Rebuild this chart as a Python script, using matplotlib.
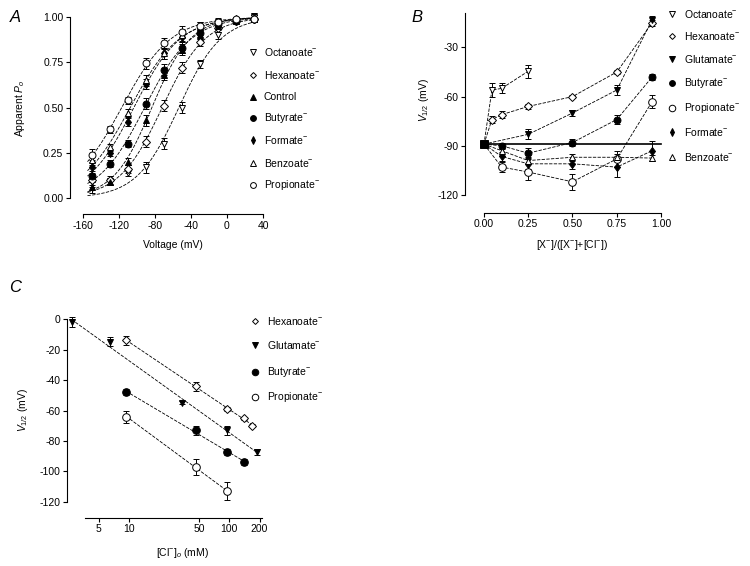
import numpy as np
import matplotlib
matplotlib.use("Agg")
import matplotlib.pyplot as plt

plt.rcParams['font.family'] = ['Liberation Sans', 'DejaVu Sans']
plt.rcParams['axes.unicode_minus'] = False
plt.rcParams['mathtext.fontset'] = 'custom'
plt.rcParams['mathtext.rm'] = 'Liberation Sans'
plt.rcParams['mathtext.it'] = 'Liberation Sans:italic'

# ---------------- data : panel A (apparent Po vs voltage) ----------------
volt = [-150, -130, -110, -90, -70, -50, -30, -10, 10, 30]
po_octanoate = [0.09, 0.09, 0.14, 0.17, 0.30, 0.50, 0.74, 0.90, 0.97, 1.00]
po_hexanoate = [0.10, 0.10, 0.16, 0.31, 0.51, 0.72, 0.86, 0.94, 0.98, 0.99]
po_control = [0.06, 0.09, 0.20, 0.43, 0.68, 0.82, 0.90, 0.95, 0.98, 0.99]
po_butyrate = [0.12, 0.19, 0.30, 0.52, 0.71, 0.83, 0.91, 0.96, 0.98, 0.99]
po_formate = [0.17, 0.25, 0.42, 0.63, 0.80, 0.89, 0.94, 0.97, 0.99, 0.99]
po_benzoate = [0.21, 0.28, 0.47, 0.65, 0.80, 0.90, 0.95, 0.97, 0.99, 1.00]
po_propionate = [0.24, 0.38, 0.54, 0.745, 0.855, 0.92, 0.95, 0.975, 0.99, 0.99]
po_err = [0.03, 0.02, 0.02, 0.03, 0.03, 0.03, 0.02, 0.02, 0.01, 0.02]

# ---------------- data : panel B (V1/2 vs anion fraction) ----------------
ctrl_v = -89
xb_octanoate = [0, 0.045, 0.1, 0.25]
vb_octanoate = [-89, -56, -55, -44.5]
eb_octanoate = [1.5, 4, 3, 4]
xb_hexanoate = [0, 0.045, 0.1, 0.25, 0.5, 0.75, 0.95]
vb_hexanoate = [-89, -74, -71, -66, -60, -45, -15]
eb_hexanoate = [1.5, 2, 2, 1.5, 1, 1, 2]
xb_glutamate = [0, 0.25, 0.5, 0.75, 0.95]
vb_glutamate = [-89, -83, -70, -56, -13]
eb_glutamate = [1.5, 3, 2, 3, 2]
xb_butyrate = [0, 0.1, 0.25, 0.5, 0.75, 0.95]
vb_butyrate = [-89, -90, -94.5, -88, -74, -48]
eb_butyrate = [1.5, 2, 3, 2, 3, 2]
xb_propionate = [0, 0.1, 0.25, 0.5, 0.75, 0.95]
vb_propionate = [-89, -103, -106, -112, -98, -63]
eb_propionate = [1.5, 3, 5, 5, 5, 4]
xb_formate = [0, 0.1, 0.25, 0.5, 0.75, 0.95]
vb_formate = [-89, -96.5, -101, -101, -103, -93]
eb_formate = [1.5, 3, 3, 3, 6, 6]
xb_benzoate = [0, 0.1, 0.25, 0.5, 0.75, 0.95]
vb_benzoate = [-89, -93, -99, -97, -97, -97.5]
eb_benzoate = [1.5, 3, 2, 2, 2, 2]

# ---------------- data : panel C (V1/2 vs [Cl]o) ----------------
cc_hexanoate = [9.4, 47, 94, 141, 169]
vc_hexanoate = [-14, -44, -59, -65, -70]
ec_hexanoate = [3, 3, 1, 1, 1]
cc_glutamate = [2.7, 6.5, 34, 94, 190]
vc_glutamate = [-2, -15, -55, -73, -87]
ec_glutamate = [3, 3, 1, 3, 2]
cc_butyrate = [9.4, 47, 94, 141]
vc_butyrate = [-48, -73, -87, -94]
ec_butyrate = [2, 3, 2, 2]
cc_propionate = [9.4, 47, 94]
vc_propionate = [-64, -97, -113]
ec_propionate = [4, 5, 6]

W, H = 750, 566
fig = plt.figure(figsize=(7.5, 5.66), dpi=100)
FS = 7.5


def box(l, r, t, b):
    return [l / W, 1 - b / H, (r - l) / W, (b - t) / H]


def style(ax):
    for s in ['top', 'right']:
        ax.spines[s].set_visible(False)
    for s in ['left', 'bottom']:
        ax.spines[s].set_linewidth(0.8)
    ax.tick_params(direction='out', length=3, width=0.8, labelsize=FS, pad=1.5)


def mk(marker, filled, ms=5):
    return dict(marker=marker, ms=ms, mec='k', mew=0.7,
                mfc='k' if filled else 'white', ls='none')


def boltz_fit(v, p):
    v = np.asarray(v, float)
    p = np.asarray(p, float)
    vh = np.arange(-160, 20, 0.5)
    k = np.arange(4, 60, 0.5)
    VH, K = np.meshgrid(vh, k)
    pred = 1 / (1 + np.exp(-(v[None, None, :] - VH[..., None]) / K[..., None]))
    sse = ((pred - p) ** 2).sum(-1)
    i = np.unravel_index(sse.argmin(), sse.shape)
    return VH[i], K[i]


dash = (0, (4, 1.6))
ebk = dict(fmt='none', ecolor='k', elinewidth=0.7, capsize=2.2, capthick=0.7)

# ---------------- panel A ----------------
axA = fig.add_axes(box(69.5, 267.5, 11.6, 214.3))
style(axA)
axA.set_xlim(-175, 45)
axA.set_ylim(-0.09, 1.03)
axA.spines['left'].set_bounds(0, 1)
axA.spines['bottom'].set_bounds(-160, 40)
axA.set_xticks([-160, -120, -80, -40, 0, 40])
axA.set_yticks([0, 0.25, 0.5, 0.75, 1.0])
axA.set_yticklabels(['0.00', '0.25', '0.50', '0.75', '1.00'])

seriesA = [
    (po_octanoate, 'v', False, 5),
    (po_hexanoate, 'D', False, 3.8),
    (po_control, '^', True, 5),
    (po_butyrate, 'o', True, 5),
    (po_formate, 'd', True, 4.5),
    (po_benzoate, '^', False, 5),
    (po_propionate, 'o', False, 5),
]
vv = np.linspace(-155, 32, 200)
for p, m, f, ms in seriesA:
    vh, k = boltz_fit(volt, p)
    axA.plot(vv, 1 / (1 + np.exp(-(vv - vh) / k)), color='k', lw=0.6, ls=dash, zorder=2)
    axA.errorbar(volt, p, yerr=po_err, zorder=3, **ebk)
    axA.plot(volt, p, zorder=4, clip_on=False, **mk(m, f, ms))

# ---------------- panel B ----------------
axB = fig.add_axes(box(465, 669.9, 13, 213))
style(axB)
axB.set_xlim(-0.107, 1.05)
axB.set_ylim(-131, -9)
axB.spines['left'].set_bounds(-120, -9)
axB.spines['bottom'].set_bounds(0, 1)
axB.set_xticks([0, 0.25, 0.5, 0.75, 1.0])
axB.set_xticklabels(['0.00', '0.25', '0.50', '0.75', '1.00'])
axB.set_yticks([-30, -60, -90, -120])
axB.plot([0, 1.0], [ctrl_v, ctrl_v], color='k', lw=1.2, zorder=2)

seriesB = [
    (xb_octanoate, vb_octanoate, eb_octanoate, 'v', False, 5),
    (xb_hexanoate, vb_hexanoate, eb_hexanoate, 'D', False, 3.8),
    (xb_glutamate, vb_glutamate, eb_glutamate, 'v', True, 5),
    (xb_butyrate, vb_butyrate, eb_butyrate, 'o', True, 5),
    (xb_propionate, vb_propionate, eb_propionate, 'o', False, 5.5),
    (xb_formate, vb_formate, eb_formate, 'd', True, 4.5),
    (xb_benzoate, vb_benzoate, eb_benzoate, '^', False, 5),
]
for x, v, e, m, f, ms in seriesB:
    axB.plot(x, v, color='k', lw=0.6, ls=dash, zorder=2)
    axB.errorbar(x, v, yerr=e, zorder=3, **ebk)
    axB.plot(x[1:], v[1:], zorder=4, clip_on=False, **mk(m, f, ms))
axB.plot([0], [ctrl_v], zorder=5, **mk('s', True, 6))

# ---------------- panel C ----------------
axC = fig.add_axes(box(67, 270, 311.4, 518))
style(axC)
axC.set_xscale('log')
axC.set_xlim(2.43, 254)
axC.set_ylim(-130.5, 5)
axC.spines['left'].set_bounds(-120, 0)
axC.spines['bottom'].set_bounds(3.66, 210)
axC.set_xticks([5, 10, 50, 100, 200])
axC.set_xticklabels(['5', '10', '50', '100', '200'])
axC.xaxis.set_minor_locator(plt.NullLocator())
axC.set_yticks([0, -20, -40, -60, -80, -100, -120])

seriesC = [
    (cc_hexanoate, vc_hexanoate, ec_hexanoate, 'D', False, 3.8),
    (cc_glutamate, vc_glutamate, ec_glutamate, 'v', True, 5),
    (cc_butyrate, vc_butyrate, ec_butyrate, 'o', True, 5.5),
    (cc_propionate, vc_propionate, ec_propionate, 'o', False, 5.5),
]
for c, v, e, m, f, ms in seriesC:
    lc = np.log10(c)
    a, b = np.polyfit(lc, v, 1)
    xx = np.linspace(lc.min(), lc.max(), 20)
    axC.plot(10 ** xx, a * xx + b, color='k', lw=0.6, ls=dash, zorder=2)
    axC.errorbar(c, v, yerr=e, zorder=3, **ebk)
    axC.plot(c, v, zorder=4, clip_on=False, **mk(m, f, ms))

# ---------------- overlay: labels, legends ----------------
ov = fig.add_axes([0, 0, 1, 1], zorder=10)
ov.set_xlim(0, W)
ov.set_ylim(H, 0)
ov.axis('off')
ov.patch.set_alpha(0)

for x, y, s in [(15, 17, 'A'), (417, 17, 'B'), (15, 287, 'C')]:
    ov.text(x, y, s, fontsize=12, style='italic', ha='center', va='center')

ov.text(20, 108, 'Apparent $P_o$', fontsize=FS, rotation=90, ha='center', va='center')
ov.text(173, 245, 'Voltage (mV)', fontsize=FS, ha='center', va='center')
ov.text(424, 100, '$V_{1/2}$ (mV)', fontsize=FS, rotation=90, ha='center', va='center')
ov.text(572, 245, '[X$^{-}$]/([X$^{-}$]+[Cl$^{-}$])', fontsize=FS, ha='center', va='center')
ov.text(23, 410, '$V_{1/2}$ (mV)', fontsize=FS, rotation=90, ha='center', va='center')
ov.text(183, 553, '[Cl$^{-}$]$_o$ (mM)', fontsize=FS, ha='center', va='center')

legA = ['Octanoate$^{-}$', 'Hexanoate$^{-}$', 'Control', 'Butyrate$^{-}$',
        'Formate$^{-}$', 'Benzoate$^{-}$', 'Propionate$^{-}$']
legA_y = [52, 75, 97, 118, 140, 163, 185]
for (p, m, f, ms), lab, y in zip(seriesA, legA, legA_y):
    ov.plot([253], [y], **mk(m, f, ms - 0.8))
    ov.text(264, y, lab, fontsize=FS, va='center')

legB = ['Octanoate$^{-}$', 'Hexanoate$^{-}$', 'Glutamate$^{-}$', 'Butyrate$^{-}$',
        'Propionate$^{-}$', 'Formate$^{-}$', 'Benzoate$^{-}$']
legB_y = [14, 36, 59, 83, 108, 132, 157]
for (x, v, e, m, f, ms), lab, y in zip(seriesB, legB, legB_y):
    ov.plot([672], [y], **mk(m, f, ms - 0.8))
    ov.text(684, y, lab, fontsize=FS, va='center')

legC = ['Hexanoate$^{-}$', 'Glutamate$^{-}$', 'Butyrate$^{-}$', 'Propionate$^{-}$']
legC_y = [321, 345, 372, 397]
for (c, v, e, m, f, ms), lab, y in zip(seriesC, legC, legC_y):
    ov.plot([255], [y], **mk(m, f, ms - 0.8))
    ov.text(267, y, lab, fontsize=FS, va='center')

fig.savefig('out.png', dpi=100)
